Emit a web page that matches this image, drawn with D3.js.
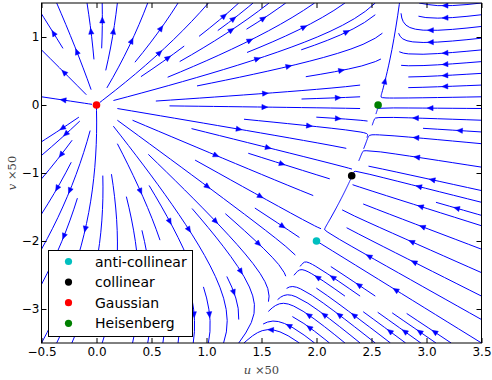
<!DOCTYPE html>
<html>
<head>
<meta charset="utf-8">
<script src="https://cdn.jsdelivr.net/npm/d3@7"></script>
<style>
  body { margin: 0; background: #fff; }
  svg { display: block; }
</style>
</head>
<body>
<svg id="chart" width="492" height="380"></svg>
<script>
// ---- data -------------------------------------------------------------
// Fixed points of the RG flow (couplings u, v in units of 1/50)
const fixedNames  = ["anti-collinear", "collinear", "Gaussian", "Heisenberg"];
const fixedU      = [2.0, 2.32, 0.0, 2.56];
const fixedV      = [-2.0, -1.04, 0.0, 0.0];
const fixedColors = ["#00bfbf", "#000000", "#ff0000", "#008000"];

// Beta functions (one loop):
//   du/dl = u - (a u^2 + b u v + c v^2)
//   dv/dl = v - (d u v + e v^2)
const betaU = [0.390625, -0.0745, 0.0349];   // a, b, c
const betaV = [0.375, -0.125];               // d, e

const xDomain = [-0.5, 3.5];
const yDomain = [-3.5, 1.5];
const xTicks  = [-0.5, 0.0, 0.5, 1.0, 1.5, 2.0, 2.5, 3.0, 3.5];
const yTicks  = [-3, -2, -1, 0, 1];

// ---- layout -----------------------------------------------------------
const plot = { left: 41.5, right: 481.5, top: 3, bottom: 343 };
const x = d3.scaleLinear().domain(xDomain).range([plot.left, plot.right]);
const y = d3.scaleLinear().domain(yDomain).range([plot.bottom, plot.top]);
const svg = d3.select("#chart");
const LINE = "#0000ff";

function flow(u, v) {
  const [a, b, c] = betaU, [d, e] = betaV;
  return [u - (a * u * u + b * u * v + c * v * v),
          v - (d * u * v + e * v * v)];
}

// ---- streamline integration (uniform grid + occupancy mask) ----------
const NG = 100, NM = 30;
const gdx = (xDomain[1] - xDomain[0]) / (NG - 1);
const gdy = (yDomain[1] - yDomain[0]) / (NG - 1);
const maxLength = 4.0, minLength = 0.1;
const OOB = { k: "oob" }, TERM = { k: "term" }, INVALID = { k: "invalid" };

const mask = new Uint8Array(NM * NM);
let trajCells = [], current = null;

function withinGrid(xi, yi) { return xi >= 0 && xi <= NG - 1 && yi >= 0 && yi <= NG - 1; }
function grid2mask(xi, yi) {
  return [Math.round(xi * (NM - 1) / (NG - 1)), Math.round(yi * (NM - 1) / (NG - 1))];
}
function maskUpdate(xm, ym) {
  if (!current || current[0] !== xm || current[1] !== ym) {
    if (mask[ym * NM + xm] === 0) {
      trajCells.push(ym * NM + xm);
      mask[ym * NM + xm] = 1;
      current = [xm, ym];
    } else throw INVALID;
  }
}
function startTrajectory(xi, yi) { trajCells = []; current = null; const [xm, ym] = grid2mask(xi, yi); maskUpdate(xm, ym); }
function resetStart(xi, yi) { current = grid2mask(xi, yi); }
function updateTrajectory(xi, yi) {
  if (!withinGrid(xi, yi)) throw INVALID;
  const [xm, ym] = grid2mask(xi, yi);
  maskUpdate(xm, ym);
}
function undoTrajectory() { trajCells.forEach(i => { mask[i] = 0; }); }

function forwardTime(xi, yi) {
  if (!withinGrid(xi, yi)) throw OOB;
  const [fu, fv] = flow(xDomain[0] + xi * gdx, yDomain[0] + yi * gdy);
  const ug = fu / gdx, vg = fv / gdy;
  const sp = Math.hypot(ug / (NG - 1), vg / (NG - 1));
  if (sp === 0) throw TERM;
  return [ug / sp, vg / sp];
}
function backwardTime(xi, yi) { const [a, b] = forwardTime(xi, yi); return [-a, -b]; }

function eulerStep(traj, f) {
  const [xi, yi] = traj[traj.length - 1];
  const [cx, cy] = f(xi, yi);
  const dsx = cx === 0 ? Infinity : (cx < 0 ? xi / -cx : (NG - 1 - xi) / cx);
  const dsy = cy === 0 ? Infinity : (cy < 0 ? yi / -cy : (NG - 1 - yi) / cy);
  const ds = Math.min(dsx, dsy);
  traj.push([xi + cx * ds, yi + cy * ds]);
  return ds;
}

function rk12(x0, y0, f) {
  const maxError = 0.003, maxDs = Math.min(1 / NM, 0.1);
  let ds = maxDs, stotal = 0, xi = x0, yi = y0;
  const traj = [];
  for (;;) {
    let k1, k2;
    try {
      if (withinGrid(xi, yi)) traj.push([xi, yi]); else throw OOB;
      k1 = f(xi, yi);
      k2 = f(xi + ds * k1[0], yi + ds * k1[1]);
    } catch (err) {
      if (err === OOB) {
        if (traj.length) { try { stotal += eulerStep(traj, f); } catch (e2) {} }
        break;
      }
      if (err === TERM) break;
      throw err;
    }
    const dx1 = ds * k1[0], dy1 = ds * k1[1];
    const dx2 = ds * 0.5 * (k1[0] + k2[0]), dy2 = ds * 0.5 * (k1[1] + k2[1]);
    const error = Math.hypot((dx2 - dx1) / (NG - 1), (dy2 - dy1) / (NG - 1));
    if (error < maxError) {
      xi += dx2; yi += dy2;
      try { updateTrajectory(xi, yi); } catch (err) { if (err === INVALID) break; throw err; }
      if (stotal + ds > maxLength) break;
      stotal += ds;
    }
    ds = error === 0 ? maxDs : Math.min(maxDs, 0.85 * ds * Math.sqrt(maxError / error));
  }
  return [stotal, traj];
}

function integrate(x0, y0) {
  try { startTrajectory(x0, y0); } catch (err) { return null; }
  const [sb, tb] = rk12(x0, y0, backwardTime);
  resetStart(x0, y0);
  const [sf, tf] = rk12(x0, y0, forwardTime);
  const pts = tb.slice().reverse().concat(tf.slice(1));
  if (sb + sf > minLength) return pts;
  undoTrajectory();
  return null;
}

function* startPoints(nx, ny) {
  let xfirst = 0, yfirst = 1, xlast = nx - 1, ylast = ny - 1, cx = 0, cy = 0, dir = "right";
  for (let i = 0; i < nx * ny; i++) {
    yield [cx, cy];
    if (dir === "right") { cx++; if (cx >= xlast) { xlast--; dir = "up"; } }
    else if (dir === "up") { cy++; if (cy >= ylast) { ylast--; dir = "left"; } }
    else if (dir === "left") { cx--; if (cx <= xfirst) { xfirst++; dir = "down"; } }
    else { cy--; if (cy <= yfirst) { yfirst++; dir = "right"; } }
  }
}

const streamlines = [];
for (const [xm, ym] of startPoints(NM, NM)) {
  if (mask[ym * NM + xm] !== 0) continue;
  const xg = xm * (NG - 1) / (NM - 1), yg = ym * (NG - 1) / (NM - 1);
  const t = integrate(xg, yg);
  if (t) streamlines.push(t.map(([gx, gy]) => [xDomain[0] + gx * gdx, yDomain[0] + gy * gdy]));
}

// ---- drawing ----------------------------------------------------------
svg.append("defs").append("clipPath").attr("id", "plotClip")
  .append("rect")
  .attr("x", plot.left).attr("y", plot.top)
  .attr("width", plot.right - plot.left).attr("height", plot.bottom - plot.top);

const gStream = svg.append("g").attr("clip-path", "url(#plotClip)");
const line = d3.line().x(d => x(d[0])).y(d => y(d[1]));

gStream.selectAll("path.stream")
  .data(streamlines)
  .join("path")
  .attr("class", "stream")
  .attr("d", line)
  .attr("fill", "none")
  .attr("stroke", LINE)
  .attr("stroke-width", 1);

// arrow heads halfway along each streamline
const arrows = streamlines.map(pts => {
  const s = [];
  let acc = 0;
  for (let i = 1; i < pts.length; i++) {
    acc += Math.hypot(pts[i][0] - pts[i - 1][0], pts[i][1] - pts[i - 1][1]);
    s.push(acc);
  }
  const half = acc / 2;
  let n = s.findIndex(v => v >= half);
  if (n < 0) n = s.length - 1;
  const tail = pts[n];
  const nxt = pts[Math.min(n + 1, pts.length - 1)];
  const head = [(tail[0] + nxt[0]) / 2, (tail[1] + nxt[1]) / 2];
  return { tail, head, nxt };
});

gStream.selectAll("path.arrow")
  .data(arrows)
  .join("path")
  .attr("class", "arrow")
  .attr("d", a => {
    const hx = x(a.head[0]), hy = y(a.head[1]);
    let dx = x(a.nxt[0]) - x(a.tail[0]), dy = y(a.nxt[1]) - y(a.tail[1]);
    const L = Math.hypot(dx, dy) || 1;
    dx /= L; dy /= L;
    const len = 5.8, hw = 2.6;
    const tipx = hx + dx * len / 2, tipy = hy + dy * len / 2;
    const bx = tipx - dx * len, by = tipy - dy * len;
    return `M${tipx},${tipy}L${bx - dy * hw},${by + dx * hw}L${bx + dy * hw},${by - dx * hw}Z`;
  })
  .attr("fill", LINE)
  .attr("stroke", LINE)
  .attr("stroke-width", 0.5);

// fixed points
svg.append("g").selectAll("circle")
  .data(fixedNames.map((n, i) => ({ n, u: fixedU[i], v: fixedV[i], c: fixedColors[i] })))
  .join("circle")
  .attr("cx", d => x(d.u)).attr("cy", d => y(d.v))
  .attr("r", 3.8)
  .attr("fill", d => d.c);

// axes (ticks pointing inward on all four sides)
const fmtX = d3.format(".1f"), fmtY = d3.format("d");
function styleAxis(g, showText) {
  g.select(".domain").remove();
  g.selectAll(".tick line").attr("stroke", "#000").attr("stroke-width", 1);
  g.selectAll("text")
    .attr("font-family", "'DejaVu Sans', sans-serif")
    .attr("font-size", 12)
    .attr("fill", "#000");
  if (!showText) g.selectAll("text").remove();
}
svg.append("g").attr("transform", `translate(0,${plot.bottom})`)
  .call(d3.axisBottom(x).tickValues(xTicks).tickFormat(fmtX).tickSize(-5).tickPadding(4.5))
  .call(g => styleAxis(g, true));
svg.append("g").attr("transform", `translate(0,${plot.top})`)
  .call(d3.axisTop(x).tickValues(xTicks).tickSize(-5))
  .call(g => styleAxis(g, false));
svg.append("g").attr("transform", `translate(${plot.left},0)`)
  .call(d3.axisLeft(y).tickValues(yTicks).tickFormat(fmtY).tickSize(-5).tickPadding(2))
  .call(g => styleAxis(g, true));
svg.append("g").attr("transform", `translate(${plot.right},0)`)
  .call(d3.axisRight(y).tickValues(yTicks).tickSize(-5))
  .call(g => styleAxis(g, false));

svg.append("rect")
  .attr("x", plot.left).attr("y", plot.top)
  .attr("width", plot.right - plot.left).attr("height", plot.bottom - plot.top)
  .attr("fill", "none").attr("stroke", "#000").attr("stroke-width", 1);

// axis labels
function axisLabel(sel, sym) {
  sel.attr("font-family", "'DejaVu Serif', 'Liberation Serif', serif")
    .attr("font-size", 11.5).attr("fill", "#444").attr("text-anchor", "middle");
  sel.append("tspan").attr("font-style", "italic").text(sym);
  sel.append("tspan").text(" \u00d750");
}
svg.append("text").attr("x", (plot.left + plot.right) / 2).attr("y", 374)
  .call(axisLabel, "u");
svg.append("text")
  .attr("transform", `translate(16,${(plot.top + plot.bottom) / 2}) rotate(-90)`)
  .call(axisLabel, "v");

// legend
const legend = svg.append("g");
legend.append("rect")
  .attr("x", 48.5).attr("y", 250.5).attr("width", 144).attr("height", 86)
  .attr("fill", "#fff").attr("stroke", "#000").attr("stroke-width", 1);
const rows = legend.selectAll("g.row")
  .data(fixedNames.map((n, i) => ({ n, c: fixedColors[i], i })))
  .join("g").attr("class", "row")
  .attr("transform", d => `translate(0,${261.5 + d.i * 20.6})`);
rows.append("circle").attr("cx", 68.5).attr("cy", 0).attr("r", 3.6).attr("fill", d => d.c);
rows.append("text").attr("x", 95).attr("y", 5)
  .attr("font-family", "'DejaVu Sans', sans-serif").attr("font-size", 14)
  .attr("fill", "#000").text(d => d.n);
</script>
</body>
</html>
